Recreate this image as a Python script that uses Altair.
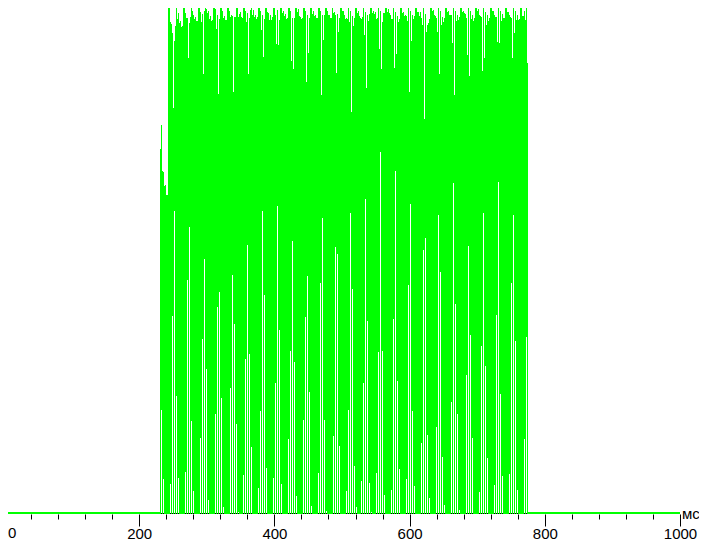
import altair as alt
import pandas as pd

# Signal envelope, one sample per 1000/676 ms, starting at sample 156 of the time axis.
FIRST_SAMPLE = 156
MS_PER_SAMPLE = 1000 / 676
# Upper edge of each sample on the reversed level scale (0 = top of chart).
upper = [
    149, 125, 171, 172, 186, 185, 195, 195,
    3, 6, 22, 24, 33, 108, 41, 26, 1, 19, 13, 23, 21, 27, 26, 1,
    0, 13, 18, 18, 58, 23, 17, 2, 11, 15, 19, 17, 21, 21, 2, 3,
    12, 22, 14, 74, 11, 2, 9, 13, 11, 19, 16, 21, 20, 2, 3,
    9, 29, 15, 94, 19, 7, 2, 11, 18, 16, 20, 20, 0, 4, 11,
    17, 15, 16, 92, 17, 17, 2, 4, 17, 14, 12, 17, 18, 2, 3,
    11, 22, 13, 74, 18, 10, 1, 15, 10, 17, 15, 19, 17, 2, 5,
    11, 30, 15, 57, 19, 5, 1, 12, 13, 20, 15, 20, 17, 3, 7,
    15, 44, 10, 45, 20, 3, 2, 13,
    11, 16, 14, 19, 18,
    2, 3, 11, 61, 18, 69, 18,
    3, 3, 12, 9, 16, 17, 19, 18,
    3, 5, 11, 82, 15, 53, 18,
    2, 1, 14, 11, 16, 15, 18, 18,
    2, 8, 11, 95, 15, 40, 15,
    3, 2, 11, 15, 15, 18, 18,
    3, 13, 12, 15, 73, 14, 32, 18,
    3, 2, 11, 11, 15, 19, 18, 19,
    3, 22, 11, 112, 16, 26, 18,
    1, 0, 13, 11, 16, 18, 19, 17,
    2, 35, 12, 88, 15, 21, 14,
    3, 2, 13, 11, 14, 12, 19, 18,
    3, 49, 11, 69, 22, 13, 13,
    2, 3, 12, 9, 13, 15, 19, 19,
    2, 68, 12, 54, 16, 22, 19,
    0, 0, 13, 12, 16, 15, 16, 21,
    4, 92, 11, 41, 15, 19, 16,
    3, 4, 12, 12, 16, 12, 18, 25,
    3, 119, 14, 32, 25, 23, 19,
    3, 3, 11, 10, 15, 16, 18, 32,
    2, 74, 11, 25, 17, 22, 18,
    1, 1, 12, 11, 15, 15, 15, 43,
    2, 95, 11, 21, 15, 20, 17,
    3, 3, 12, 11, 13, 14, 18, 55,
    3, 76, 11, 19, 15, 21, 18,
    3, 3, 11, 9, 15, 16, 17, 71,
    2, 58, 12, 25, 15, 21, 18,
    1, 0, 11, 11, 15, 17, 17, 42,
    3, 43, 11, 21, 14, 18, 18,
    3, 4, 12, 12, 15, 17, 18, 58,
    2, 33, 11, 20, 15, 20, 19,
    3, 3, 16, 16, 11, 20, 5, 63,
]
BASE_LEVEL = 514
# Samples whose lower edge stays above the base: sample number (offset by 4) and lower edge.
gap_samples = [
    161, 163,
    170, 172, 174, 176, 178, 185, 187, 189, 191, 193,
    200, 202, 204, 206, 208, 215, 217, 219, 221, 223,
    230, 232, 234, 236, 238, 243, 245, 247, 249, 251,
    258, 260, 262, 264, 266, 273, 275, 277, 279, 281,
    288, 290, 292, 294, 296, 303, 305, 307, 309, 311,
    318, 320, 322, 324, 326, 333, 335, 337, 339,
    346, 348, 350, 352, 354, 356, 361, 363, 365, 367, 369, 371,
    376, 378, 380, 382, 384, 391, 393, 395, 397, 399,
    406, 408, 410, 412, 414, 421, 423, 425, 427, 429,
    436, 438, 440, 442, 444, 451, 453, 455, 457, 459,
    466, 468, 470, 472, 479, 481, 483, 485, 487,
    494, 496, 498, 500, 502, 509, 511, 513, 515, 517, 524, 526,
]
gap_edges = [
    410, 479,
    484, 316, 211, 396, 478, 472, 280, 227, 421, 491,
    438, 339, 259, 369, 500, 414, 307, 292, 398, 507,
    388, 275, 324, 424, 512, 475, 359, 245, 354, 447,
    488, 411, 211, 295, 468, 478, 383, 206, 330, 484,
    439, 351, 241, 362, 496, 420, 317, 276, 392, 506,
    473, 283, 218, 420, 511, 436, 247, 254, 446,
    491, 410, 213, 289, 466, 507, 481, 383, 199, 321, 483, 512,
    473, 352, 152, 351, 495, 490, 319, 171, 381, 469,
    479, 285, 204, 411, 486, 443, 250, 238, 435, 498,
    427, 215, 272, 457, 505, 402, 183, 304, 414, 510,
    375, 246, 335, 438, 492, 346, 213, 366, 458,
    485, 315, 182, 394, 476, 474, 283, 215, 341, 490, 439, 337,
]
major_ticks = [200, 400, 600, 800, 1000]
minor_ticks = [40, 80, 120, 160, 240, 280, 320, 360, 440, 480, 520, 560, 640, 680,
               720, 760, 840, 880, 920, 960]
unit_label = "мс"
zero_label = "0"

GREEN = "#00ff00"
X_START = 4 * MS_PER_SAMPLE
signal_start = FIRST_SAMPLE * MS_PER_SAMPLE
signal_end = (FIRST_SAMPLE + len(upper)) * MS_PER_SAMPLE

gap_lookup = dict(zip(gap_samples, gap_edges))
rows = []
for i, top in enumerate(upper):
    n = FIRST_SAMPLE + i
    rows.append({
        "t0": n * MS_PER_SAMPLE,
        "t1": (n + 1) * MS_PER_SAMPLE,
        "top": top,
        "low": gap_lookup.get(n + 4, BASE_LEVEL),
    })
signal = pd.DataFrame(rows)

x_scale = alt.Scale(domain=[X_START, 1000], nice=False, zero=False)
y_scale = alt.Scale(domain=[8, BASE_LEVEL], reverse=True, nice=False, zero=False)
no_y = alt.Y("top:Q", scale=y_scale, axis=None)

bars = alt.Chart(signal).mark_rect(color=GREEN, strokeWidth=0).encode(
    x=alt.X("t0:Q", scale=x_scale, axis=alt.Axis(
        orient="bottom", values=major_ticks, format="d", title=None, domain=False, grid=False,
        tickColor="#000000", tickSize=12, tickWidth=1, labelColor="#000000",
        labelFont="Liberation Sans", labelFontSize=15, labelPadding=0,
        labelAngle=0, labelFlush=False, labelOverlap=False)),
    x2="t1:Q",
    y=no_y,
    y2="low:Q",
)

minor = alt.Chart(signal).mark_rect(opacity=0).encode(
    x=alt.X("t0:Q", scale=x_scale, axis=alt.Axis(
        orient="bottom", values=minor_ticks, title=None, domain=False, grid=False,
        tickColor="#000000", tickSize=5, tickWidth=1, labels=False)),
    x2="t1:Q",
    y=no_y,
    y2="low:Q",
)

band = pd.DataFrame({
    "a": [X_START, signal_end],
    "b": [signal_start, 1000],
    "top": [512, 512],
    "low": [514, 514],
})
base_band = alt.Chart(band).mark_rect(color=GREEN, strokeWidth=0).encode(
    x=alt.X("a:Q", scale=x_scale, axis=None), x2="b:Q",
    y=alt.Y("top:Q", scale=y_scale, axis=None), y2="low:Q",
)

under = pd.DataFrame({"a": [signal_start], "b": [signal_end], "top": [513], "low": [514]})
under_line = alt.Chart(under).mark_rect(color="#000000", strokeWidth=0).encode(
    x=alt.X("a:Q", scale=x_scale, axis=None), x2="b:Q",
    y=alt.Y("top:Q", scale=y_scale, axis=None), y2="low:Q",
)

unit = alt.Chart(pd.DataFrame({"t": [1000], "lvl": [519], "s": [unit_label]})).mark_text(
    align="left", baseline="alphabetic", dx=2, font="Liberation Sans", fontSize=15, color="#000000"
).encode(
    x=alt.X("t:Q", scale=x_scale, axis=None),
    y=alt.Y("lvl:Q", scale=y_scale, axis=None),
    text="s:N",
)

zero = alt.Chart(pd.DataFrame({"t": [X_START], "lvl": [538], "s": [zero_label]})).mark_text(
    align="left", baseline="alphabetic", font="Liberation Sans", fontSize=15, color="#000000"
).encode(
    x=alt.X("t:Q", scale=x_scale, axis=None),
    y=alt.Y("lvl:Q", scale=y_scale, axis=None),
    text="s:N",
)

chart = alt.layer(under_line, bars, minor, base_band, unit, zero).resolve_axis(x="independent").properties(
    width=672,
    height=506,
    padding={"left": 0, "top": 0, "right": 19, "bottom": 27},
    autosize=alt.AutoSizeParams(type="none"),
    background="#ffffff",
).configure_view(stroke=None)

if len(gap_samples) != len(gap_edges):
    raise ValueError((len(gap_samples), len(gap_edges)))
if len(upper) != 368:
    raise ValueError(len(upper))

chart.save("out.html", embed_options={"renderer": "svg", "actions": False})
